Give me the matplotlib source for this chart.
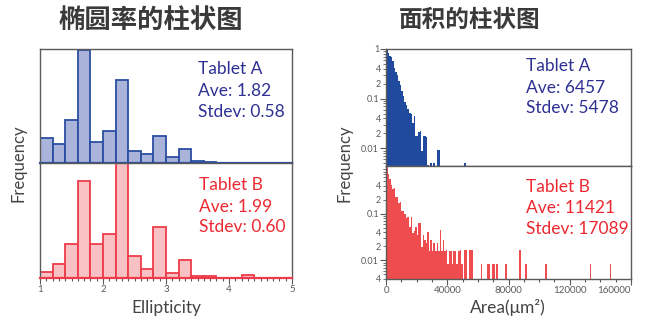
import numpy as np
import matplotlib
matplotlib.use("Agg")
import matplotlib.pyplot as plt
from matplotlib.ticker import FixedLocator, FixedFormatter, MultipleLocator

plt.rcParams['font.family'] = ['Lato', 'Noto Sans CJK SC', 'DejaVu Sans']

# ---- ellipticity histograms (bin width 0.2, 1..5), arbitrary frequency units
ell_edges = [1.0, 1.2, 1.4, 1.6, 1.8, 2.0, 2.2, 2.4, 2.6, 2.8, 3.0,
             3.2, 3.4, 3.6, 3.8, 4.0, 4.2, 4.4, 4.6, 4.8, 5.0]
ell_a = [7.4, 5.7, 12.9, 34.0, 6.2, 9.4, 24.8, 3.6, 2.5, 8.1,
         1.6, 4.1, 0.5, 0.3, 0, 0, 0, 0, 0, 0]
ell_b = [1.9, 4.2, 10.2, 28.9, 10.2, 13.2, 34.3, 6.7, 2.7, 15.3,
         1.7, 5.5, 0.6, 0.7, 0, 0, 1.0, 0, 0, 0]
ell_ticks = [1, 2, 3, 4, 5]

# ---- area histograms (bin width 1000 um^2), frequency normalised to max
area_bin = 1000
area_a_head = [1.0, 0.85, 0.72, 0.68, 0.58, 0.42, 0.35, 0.30, 0.23, 0.19,
               0.14, 0.115, 0.085, 0.074, 0.061, 0.051, 0.048, 0.033, 0.044, 0.0176,
               0.018, 0.021, 0.022, 0.0087, 0.0176, 0.0176, 0.017, 0.0047]
area_a_tail_bins = [29, 31, 33, 34, 51]
area_a_tail_freq = [0.005, 0.005, 0.0091, 0.0091, 0.005]

area_b_head = [1.0, 0.72, 0.55, 0.42, 0.33, 0.35, 0.23, 0.23, 0.17, 0.175,
               0.117, 0.117, 0.10, 0.079, 0.085, 0.052, 0.085, 0.038, 0.043, 0.052,
               0.035, 0.064, 0.064, 0.019, 0.035, 0.028, 0.0235, 0.041, 0.0157, 0.028,
               0.0157, 0.0235, 0.0157, 0.0235, 0.0157, 0.045, 0.0157, 0.028, 0.0157, 0.017,
               0.0083, 0.0157, 0.0157, 0.0083, 0.0157, 0.0157, 0.0083, 0.0157, 0.0165, 0.0083,
               0, 0.0165, 0.0165, 0, 0.0165, 0.0165, 0.0165]
area_b_tail_bins = [62, 66, 67, 69, 70, 72, 78, 87, 91, 104, 133, 146]
area_b_tail_freq = [0.0083, 0.0083, 0.0083, 0.0083, 0.0083, 0.0083, 0.0083,
                    0.0165, 0.0083, 0.0083, 0.0083, 0.0083]
area_ticks = [0, 40000, 80000, 120000, 160000]

stats_ell = [("Tablet A", "Ave: 1.82", "Stdev: 0.58"), ("Tablet B", "Ave: 1.99", "Stdev: 0.60")]
stats_area = [("Tablet A", "Ave: 6457", "Stdev: 5478"), ("Tablet B", "Ave: 11421", "Stdev: 17089")]

blue_txt = '#2e3192'
red_txt = '#ed2830'
frame = '#5a5a5a'
lab = '#444444'

W, H = 646, 320
fig = plt.figure(figsize=(W / 100, H / 100), dpi=100)


def box(x0, y0, x1, y1):
    # pixel box -> figure fraction
    return [x0 / W, 1 - y1 / H, (x1 - x0) / W, (y1 - y0) / H]


def style(ax, bottom_col):
    for s in ax.spines.values():
        s.set_color(frame)
        s.set_linewidth(1.0)
    ax.spines['bottom'].set_color(bottom_col)


# ---------- left: ellipticity
axA = fig.add_axes(box(40, 49, 292, 162.5))
axB = fig.add_axes(box(40, 162.5, 292, 278.3))
lefts = np.array(ell_edges[:-1])
for ax, h, fc, ec, ymax in [(axA, ell_a, '#aab3da', '#2b4ea2', 34.3),
                            (axB, ell_b, '#f8c1c4', '#ee3b4a', 34.5)]:
    ax.bar(lefts, h, width=0.2, align='edge', color=fc, edgecolor=ec, linewidth=1.3)
    ax.set_xlim(1, 5)
    ax.set_ylim(0, ymax)
    ax.set_yticks([])
    style(ax, ec)
    ax.spines['bottom'].set_linewidth(1.6)
axA.set_xticks([])
axB.xaxis.set_major_locator(FixedLocator(ell_ticks))
axB.xaxis.set_minor_locator(MultipleLocator(0.1))
axB.tick_params(axis='x', which='both', direction='out', colors=frame, labelsize=7, pad=1)
axB.tick_params(axis='x', which='major', length=4, width=0.8)
axB.tick_params(axis='x', which='minor', length=2.5, width=0.8)

# ---------- right: area (log)
axC = fig.add_axes(box(386, 49, 631, 166))
axD = fig.add_axes(box(386, 166, 631, 279))
for ax, head, tb, tf, col, ylim, majors in [
        (axC, area_a_head, area_a_tail_bins, area_a_tail_freq, '#1f4a9e', (0.0044, 1.0), [0.01, 0.1, 1]),
        (axD, area_b_head, area_b_tail_bins, area_b_tail_freq, '#ef4c50', (0.004, 1.05), [0.01, 0.1])]:
    bins = list(range(len(head))) + tb
    freq = list(head) + tf
    x = [b * area_bin for b, f in zip(bins, freq) if f > 0]
    y = [f for f in freq if f > 0]
    ax.set_yscale('log')
    ax.bar(x, y, width=area_bin, align='edge', color=col, linewidth=0)
    ax.set_xlim(0, 160000)
    ax.set_ylim(*ylim)
    style(ax, frame)
    minors = [m * 10.0 ** e for e in (-3, -2, -1) for m in range(2, 10)]
    ax.yaxis.set_major_locator(FixedLocator(majors))
    ax.yaxis.set_major_formatter(FixedFormatter([('%g' % v) for v in majors]))
    ax.yaxis.set_minor_locator(FixedLocator(minors))
    mlabels = []
    for v in minors:
        m = int(round(v / 10.0 ** np.floor(np.log10(v) + 1e-9)))
        mlabels.append(str(m) if m in (2, 4) else '')
    ax.yaxis.set_minor_formatter(FixedFormatter(mlabels))
    ax.tick_params(axis='y', which='both', direction='out', colors=frame, labelsize=6.5, pad=1)
    ax.tick_params(axis='y', which='major', length=4, width=0.8)
    ax.tick_params(axis='y', which='minor', length=2.5, width=0.6)
axC.set_xticks([])
axD.xaxis.set_major_locator(FixedLocator(area_ticks))
axD.xaxis.set_major_formatter(FixedFormatter([str(t) for t in area_ticks]))
axD.xaxis.set_minor_locator(MultipleLocator(10000))
axD.tick_params(axis='x', which='both', direction='out', colors=frame, labelsize=7, pad=1)
axD.tick_params(axis='x', which='major', length=4, width=0.8)
axD.tick_params(axis='x', which='minor', length=2.5, width=0.8)
axD.get_xticklabels()[-1].set_ha('right')

# ---------- stats text
for (x0, bases, lines, col) in [
        (198, [74.3, 96.5, 117.3], stats_ell[0], blue_txt),
        (199, [190, 211.7, 231.7], stats_ell[1], red_txt),
        (525.7, [70.7, 92.7, 113.3], stats_area[0], blue_txt),
        (525.7, [191.7, 213.3, 234], stats_area[1], red_txt)]:
    for b, t in zip(bases, lines):
        fig.text(x0 / W, 1 - b / H, t, color=col, fontsize=12.5, va='baseline', ha='left')

# ---------- labels and titles
fig.text(18 / W, 1 - 163 / H, 'Frequency', rotation=90, ha='center', va='center', fontsize=12, color=lab)
fig.text(345 / W, 1 - 163 / H, 'Frequency', rotation=90, ha='center', va='center', fontsize=12, color=lab)
fig.text(166 / W, 1 - 313.5 / H, 'Ellipticity', ha='center', va='baseline', fontsize=12.5, color=lab)
fig.text(507.5 / W, 1 - 313.5 / H, 'Area(μm²)', ha='center', va='baseline', fontsize=12.5, color=lab)
fig.text(151 / W, 1 - 20 / H, '椭圆率的柱状图', ha='center', va='center', fontsize=19,
         fontweight='bold', color='#3a3a3a', family=['Noto Sans CJK SC', 'DejaVu Sans'])
fig.text(470 / W, 1 - 20 / H, '面积的柱状图', ha='center', va='center', fontsize=17,
         fontweight='bold', color='#3a3a3a', family=['Noto Sans CJK SC', 'DejaVu Sans'])

fig.savefig('out.png', dpi=100)
